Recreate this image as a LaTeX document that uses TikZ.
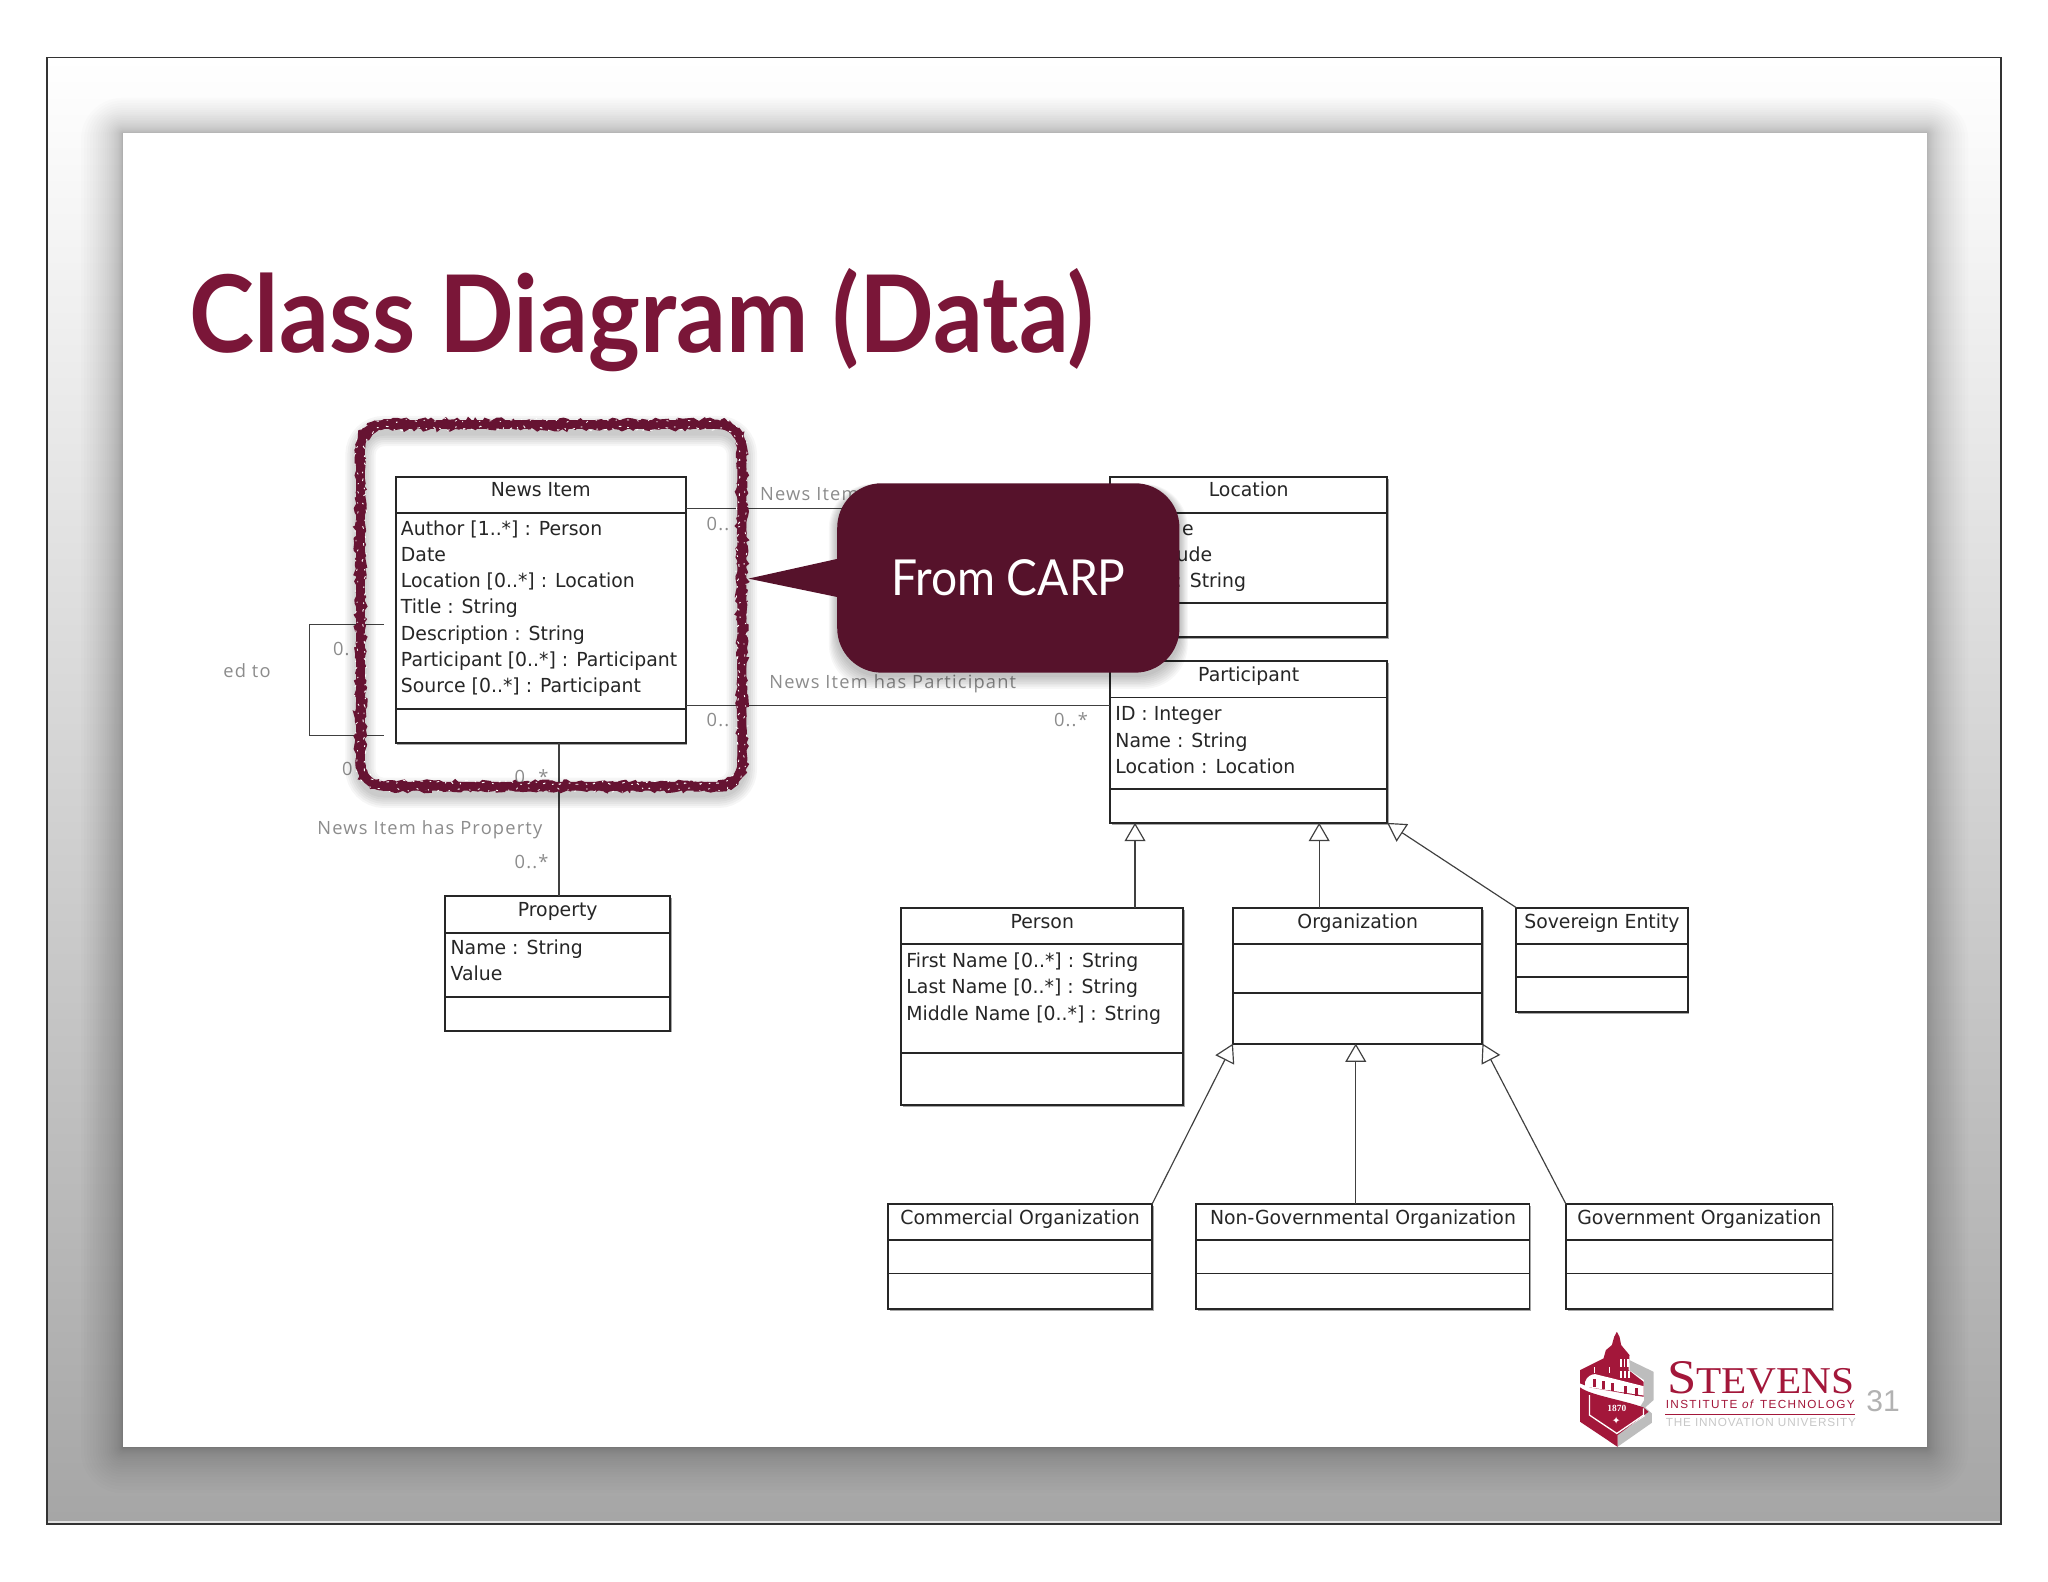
\documentclass[tikz,border=0pt]{standalone}
\usepackage{fontspec}
\usepackage{graphicx}
\usetikzlibrary{arrows.meta,shadows,decorations.pathmorphing,calc}
\setmainfont{DejaVu Sans}
\newfontfamily\umlfont[FakeStretch=0.975]{DejaVu Sans}
\newfontfamily\lightfont[LetterSpace=6.5]{Open Sans}
\newfontfamily\headfont[FakeStretch=0.918]{Lato}
\newfontfamily\callfont[FakeStretch=0.93]{Lato}
\newfontfamily\logoserif[FakeStretch=1.09]{Liberation Serif}
\newfontfamily\yearfont{Liberation Serif}
\newfontfamily\logosans[LetterSpace=11.5]{Liberation Sans}
\newfontfamily\logosansb[LetterSpace=7]{Liberation Sans}
\newfontfamily\logoplain{Liberation Sans}
\definecolor{maroon}{HTML}{7A1638}
\definecolor{ringc}{HTML}{661332}
\definecolor{calloutc}{HTML}{56122B}
\definecolor{stevens}{HTML}{A3173A}
\definecolor{logogray}{HTML}{BDBDBD}
\definecolor{lbl}{HTML}{8C8C8C}
\tikzset{
  classshape/.style={draw=black!85,line width=0.75pt,fill=white,inner sep=0pt,outer sep=0pt,
    drop shadow={shadow xshift=0.6pt,shadow yshift=-0.7pt,fill=black,opacity=0.35}},
  compart/.style={draw=black!85,line width=0.75pt},
  umltext/.style={inner sep=0pt,outer sep=0pt,text=black!85,font=\umlfont\fontsize{7.4}{9}\selectfont},
  faint/.style={inner sep=0pt,outer sep=0pt,text=lbl,font=\lightfont\fontsize{7}{9}\selectfont},
  assoc/.style={draw=black!75,line width=0.45pt},
  inherit/.style={draw=black!75,line width=0.45pt,-{Triangle[open,length=7pt,width=8pt,fill=white]}},
  rough/.style={decorate,decoration={random steps,segment length=1.4pt,amplitude=0.9pt}},
}
% name, x1, y1, x2, y2, y of title rule, y of attribute rule, title
\newcommand{\classbox}[8]{%
  \pgfmathsetmacro{\boxw}{(#4-#2)*0.5}%
  \pgfmathsetmacro{\boxh}{(#5-#3)*0.5}%
  \node[classshape,anchor=north west,minimum width=\boxw pt,minimum height=\boxh pt] (#1) at (#2,#3) {};
  \draw[compart] (#2,#6) -- (#4,#6);
  \draw[compart] (#2,#7) -- (#4,#7);
  \node[umltext,anchor=base] (#1-title) at ({(#2+#4)/2},{#3+15.5}) {#8};
}
% name, x, first baseline, list
\newcommand{\attrlines}[4]{%
  \foreach \attrtext [count=\attrno] in {#4}{
    \node[umltext,anchor=base west] (#1-\attrno) at (#2,{#3+(\attrno-1)*20}) {\attrtext};
  }%
}
% the highlight ring, inset by #1
\newcommand{\ringpath}[1]{%
  ({272+#1},{343}) arc[start angle=180,end angle=90,radius={11pt-#1*0.5pt}]
  -- ({550},{321+#1}) arc[start angle=90,end angle=0,radius={11pt-#1*0.5pt}]
  -- ({572-#1},{584}) arc[start angle=0,end angle=-90,radius={11pt-#1*0.5pt}]
  -- ({294},{606-#1}) arc[start angle=-90,end angle=-180,radius={11pt-#1*0.5pt}]
  -- cycle}
\begin{document}
\begin{tikzpicture}[x=0.5pt,y=-0.5pt]
\useasboundingbox (0,0) rectangle (1568,1211);
\fill[white] (0,0) rectangle (1568,1211);
% slide background
\shade[top color=white,middle color=black!9,bottom color=black!35]
  (36,44) rectangle (1532,1167);
\draw[black!12,line width=0.8pt] (37,1165.5) -- (1531,1165.5);
\draw[black!80,line width=0.6pt] (36,44) rectangle (1532,1167);
% slide shadow: steps crowd towards the slide edge
\foreach \i in {1,...,26}{
  \pgfmathsetmacro{\sh}{32*(\i/26)*(\i/26)}
  \fill[black,opacity=0.012,rounded corners={\sh*0.5pt}]
    ({94-\sh},{102-0.85*\sh}) rectangle ({1475+\sh},{1108+1.1*\sh});
}
\fill[white] (94,102) rectangle (1475,1108);
% title
\node[anchor=base west,inner sep=0pt,text=maroon,font=\headfont\bfseries\fontsize{41}{45}\selectfont] (title) at (145,270) {Class Diagram (Data)};
\coordinate (yA) at (0,389);
\coordinate (yB) at (0,540);
\coordinate (xP) at (428,0);
\coordinate (xPe) at (869,0);
\coordinate (xOr) at (1010,0);
\coordinate (xNg) at (1038,0);
% classes
\classbox{news}{303}{365}{525}{569}{393}{543}{News Item}
\attrlines{news}{307}{410}{{Author [1..*] : Person},{Date},{Location [0..*] : Location},{Title : String},{Description : String},{Participant [0..*] : Participant},{Source [0..*] : Participant}}
\classbox{loc}{850}{365}{1062}{488}{393}{462}{Location}
\node[umltext,anchor=base east] (loc-1) at (914,410) {e};
\node[umltext,anchor=base east] (loc-2) at (928,430) {ude};
\node[umltext,anchor=base east] (loc-3) at (954,450) {: String};
\classbox{part}{850}{506}{1062}{630}{534}{604}{Participant}
\attrlines{part}{854}{552}{{ID : Integer},{Name : String},{Location : Location}}
\classbox{prop}{341}{686}{513}{789}{714}{763}{Property}
\attrlines{prop}{345}{731}{{Name : String},{Value}}
\classbox{person}{690}{695}{906}{846}{723}{806}{Person}
\attrlines{person}{694}{741}{{First Name [0..*] : String},{Last Name [0..*] : String},{Middle Name [0..*] : String}}
\classbox{org}{944}{695}{1135}{799}{723}{760}{Organization}
\classbox{sov}{1161}{695}{1292}{775}{723}{748}{Sovereign Entity}
\classbox{com}{680}{922}{882}{1002}{949}{975}{Commercial Organization}
\classbox{ngo}{916}{922}{1171}{1002}{949}{975}{Non-Governmental Organization}
\classbox{gov}{1199}{922}{1403}{1002}{949}{975}{Government Organization}
% associations
\draw[assoc] (news.east |- yA) -- (loc.west |- yA);
\draw[assoc] (news.east |- yB) -- (part.west |- yB);
\draw[assoc] (news.south -| xP) -- (prop.north -| xP);
\coordinate (loopA) at (294,478);
\coordinate (loopB) at (294,563);
\coordinate (loopC) at (237,478);
\coordinate (loopD) at (237,563);
\draw[assoc] (loopA) -- (loopC) -- (loopD) -- (loopB);
% generalisations
\draw[inherit] (person.north -| xPe) -- (part.south -| xPe);
\draw[inherit] (org.north -| xOr) -- (part.south -| xOr);
\draw[inherit] (sov.north west) -- (part.south east);
\draw[inherit] (com.north east) -- (org.south west);
\draw[inherit] (ngo.north -| xNg) -- (org.south -| xNg);
\draw[inherit] (gov.north west) -- (org.south east);
% association labels
\node[faint,anchor=base west] (l1) at (582,383) {News Item};
\node[faint,anchor=base west] (l2) at (589,527) {News Item has Participant};
\node[faint,anchor=base west] (l3) at (243,639) {News Item has Property};
\node[faint,anchor=base west] (l4) at (171,519) {ed to};
\node[faint,anchor=base west] (m1) at (541,406) {0..};
\node[faint,anchor=base west] (m2) at (541,556) {0..};
\node[faint,anchor=base west] (m3) at (807,556) {0..*};
\node[faint,anchor=base west] (m4) at (255,502) {0.};
\node[faint,anchor=base west] (m5) at (262,594) {0};
\node[faint,anchor=base west] (m6) at (394,600) {0..*};
\node[faint,anchor=base west] (m7) at (394,665) {0..*};
% highlight ring
\foreach \i in {1,...,6}{
  \draw[black,opacity=0.035,line width={2pt+1.6pt*\i},yshift=-2.5pt] \ringpath{4};
}
\pgfmathsetseed{7}
\draw[ringc,line width=3.4pt] \ringpath{4};
\draw[ringc,line width=1.1pt,rough] \ringpath{1.5};
\draw[ringc,line width=1.1pt,rough] \ringpath{6.5};
\draw[white,line width=0.35pt,rough,dash pattern=on 1pt off 2.3pt on 0.6pt off 3pt] \ringpath{7};
\draw[white,line width=0.3pt,rough,dash pattern=on 0.8pt off 3.3pt on 0.5pt off 4pt] \ringpath{1};
% callout
\foreach \i in {1,...,8}{
  \fill[black,opacity=0.03,rounded corners=17pt]
    ({641-0.8*\i},{372-0.2*\i}) rectangle ({903+0.8*\i},{517+1.3*\i});
}
\coordinate (tip) at (573,443);
\coordinate (tipA) at (0,428);
\coordinate (tipB) at (0,457);
\node[fill=calloutc,rounded corners=17pt,minimum width=131pt,minimum height=72.5pt,inner sep=0pt,
  text=white,font=\callfont\fontsize{19}{24}\selectfont] (callout) at (772,442.5) {From CARP};
\fill[calloutc] (tip) -- (callout.west |- tipA) -- ([xshift=3pt]callout.west |- tipA) -- ([xshift=3pt]callout.west |- tipB) -- (callout.west |- tipB) -- cycle;
% logo
\begin{scope}[shift={(1179.2,995.4)},x=0.1276pt,y=-0.1276pt]
  \fill[logogray] (268,180) -- (340,215) -- (340,300) -- (315,322) -- (335,340) -- (335,368) -- (232,440) -- (232,402) -- (315,348) -- (300,320) -- (312,300) -- (312,240) -- (268,210) -- cycle;
  \fill[stevens] (120,262) .. controls (150,285) and (250,300) .. (310,322) -- (325,335) -- (232,405) -- (232,440) -- (120,365) -- cycle;
  \draw[white,line width=0.5pt] (148,285) -- (148,345) -- (230,400) -- (310,345) -- (310,325);
  \fill[stevens] (120,210) -- (190,175) -- (197,150) -- (215,135) -- (222,110) -- (230,95) -- (238,110) -- (243,135) -- (268,165) -- (265,210) -- (310,245) -- (310,290) -- (150,262) -- (120,250) -- cycle;
  \fill[white] (135,245) .. controls (140,228) and (155,222) .. (165,222) -- (310,258) -- (310,286) -- (150,262) -- (135,262) -- cycle;
  \foreach \wx/\wy in {158/238,185/244,212/250,250/258,285/265}{
    \fill[stevens] (\wx,\wy) rectangle ++(9,24);
  }
  \foreach \wx in {240,250,260}{ \fill[white] (\wx,178) rectangle ++(5,24); }
  \foreach \wx in {240,252,264}{ \fill[white] (\wx,212) rectangle ++(5,22); }
  \fill[white] (160,200) rectangle ++(4,18);
  \fill[white] (205,200) rectangle ++(4,20);
  \node[text=white,inner sep=0pt,font=\yearfont\bfseries\fontsize{3.6}{4}\selectfont] (year) at (230,326) {1870};
  \node[text=white,inner sep=0pt,font=\fontsize{4}{4}\selectfont] (star) at (228,363) {✦};
\end{scope}
\node[anchor=base west,inner sep=0pt,text=stevens,font=\logoserif] (stv) at (1276,1067)
  {\fontsize{18.5}{20}\selectfont S\fontsize{14.5}{20}\selectfont TEVENS};
\node[anchor=base west,inner sep=0pt,text=stevens,font=\logosans\fontsize{4.5}{5}\selectfont] (inst) at (1275,1078.5)
  {INSTITUTE \textit{of} TECHNOLOGY};
\coordinate (ruleL) at (1275,1082.6);
\coordinate (ruleR) at (1420,1082.6);
\draw[stevens,line width=0.4pt] (ruleL) -- (ruleR);
\node[anchor=base west,inner sep=0pt,text=black!22,font=\logosansb\fontsize{4.5}{5}\selectfont] (innov) at (1275,1092.5)
  {THE INNOVATION UNIVERSITY};
\node[anchor=base west,inner sep=0pt,text=black!30,font=\logoplain\fontsize{11.5}{13}\selectfont] (pageno) at (1428.5,1081) {31};
\end{tikzpicture}
\end{document}
